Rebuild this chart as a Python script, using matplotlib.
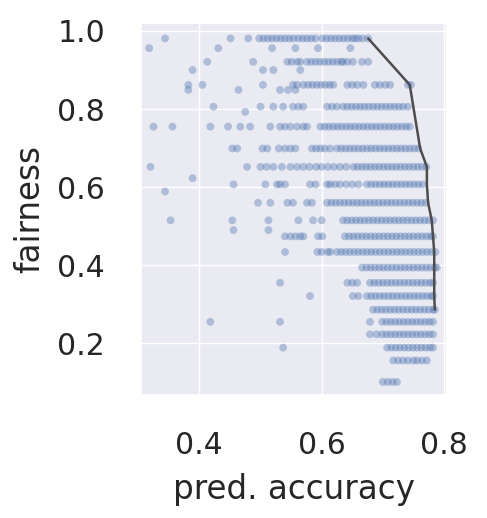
import matplotlib
matplotlib.use('Agg')
import matplotlib.pyplot as plt
import seaborn as sns

# fairness level of each row of runs, and the accuracies found on that row
fairness_levels = [0.981, 0.956, 0.921, 0.900, 0.862, 0.849, 0.806, 0.793,
                   0.755, 0.699, 0.652, 0.623, 0.607, 0.589, 0.560, 0.515,
                   0.490, 0.474, 0.434, 0.394, 0.355, 0.321, 0.286, 0.255,
                   0.223, 0.189, 0.156, 0.101]

accuracies = [
    [0.344, 0.451, 0.480, 0.498, 0.505, 0.512, 0.519, 0.526, 0.533, 0.540,
     0.547, 0.554, 0.562, 0.569, 0.576, 0.583, 0.590, 0.601, 0.608, 0.615,
     0.622, 0.629, 0.636, 0.643, 0.650, 0.655, 0.660, 0.667, 0.676],
    [0.318, 0.431, 0.519, 0.557, 0.594, 0.647],
    [0.413, 0.488, 0.544, 0.551, 0.560, 0.565, 0.576, 0.583, 0.590, 0.597,
     0.604, 0.611, 0.618, 0.625, 0.632, 0.635, 0.642, 0.651, 0.666, 0.676],
    [0.389, 0.504, 0.521, 0.565],
    [0.382, 0.405, 0.504, 0.553, 0.560, 0.570, 0.578, 0.585, 0.592, 0.599,
     0.606, 0.613, 0.619, 0.642, 0.650, 0.658, 0.668, 0.687, 0.695, 0.704,
     0.712, 0.741, 0.746],
    [0.382, 0.464, 0.532, 0.545, 0.557],
    [0.423, 0.500, 0.521, 0.537, 0.553, 0.562, 0.570, 0.609, 0.617, 0.625,
     0.635, 0.642, 0.649, 0.656, 0.663, 0.670, 0.677, 0.684, 0.691, 0.698,
     0.705, 0.712, 0.719, 0.726, 0.733, 0.741],
    [0.475],
    [0.325, 0.356, 0.418, 0.447, 0.467, 0.483, 0.516, 0.532, 0.540, 0.549,
     0.560, 0.570, 0.576, 0.598, 0.605, 0.612, 0.619, 0.626, 0.633, 0.640,
     0.647, 0.654, 0.661, 0.668, 0.675, 0.682, 0.689, 0.696, 0.703, 0.710,
     0.717, 0.724, 0.731, 0.738, 0.744],
    [0.454, 0.462, 0.503, 0.511, 0.530, 0.540, 0.549, 0.557, 0.584, 0.591,
     0.598, 0.605, 0.614, 0.625, 0.632, 0.639, 0.646, 0.653, 0.660, 0.667,
     0.674, 0.681, 0.688, 0.695, 0.702, 0.709, 0.716, 0.723, 0.730, 0.737,
     0.744, 0.751, 0.758],
    [0.320, 0.478, 0.500, 0.510, 0.521, 0.535, 0.549, 0.560, 0.570, 0.580,
     0.591, 0.600, 0.610, 0.620, 0.630, 0.640, 0.652, 0.659, 0.666, 0.673,
     0.680, 0.687, 0.694, 0.701, 0.708, 0.715, 0.722, 0.729, 0.736, 0.743,
     0.750, 0.757, 0.764, 0.771],
    [0.389],
    [0.456, 0.508, 0.527, 0.532, 0.540, 0.581, 0.590, 0.609, 0.614, 0.622,
     0.630, 0.640, 0.650, 0.660, 0.674, 0.681, 0.688, 0.695, 0.702, 0.709,
     0.716, 0.723, 0.730, 0.737, 0.744, 0.751, 0.758, 0.765],
    [0.344],
    [0.496, 0.516, 0.544, 0.553, 0.576, 0.584, 0.609, 0.616, 0.623, 0.630,
     0.637, 0.644, 0.651, 0.658, 0.665, 0.672, 0.679, 0.686, 0.693, 0.700,
     0.707, 0.714, 0.721, 0.728, 0.735, 0.742, 0.749, 0.756, 0.763, 0.770],
    [0.353, 0.454, 0.513, 0.562, 0.586, 0.600, 0.635, 0.642, 0.649, 0.656,
     0.663, 0.670, 0.677, 0.684, 0.691, 0.698, 0.705, 0.712, 0.719, 0.726,
     0.733, 0.740, 0.747, 0.754, 0.761, 0.768, 0.775, 0.782],
    [0.456, 0.513],
    [0.540, 0.549, 0.557, 0.565, 0.570, 0.594, 0.601, 0.638, 0.645, 0.652,
     0.659, 0.666, 0.673, 0.680, 0.687, 0.694, 0.701, 0.708, 0.715, 0.722,
     0.729, 0.736, 0.743, 0.750, 0.757, 0.764, 0.771, 0.778, 0.782],
    [0.540, 0.593, 0.600, 0.610, 0.614, 0.625, 0.632, 0.639, 0.646, 0.653,
     0.660, 0.667, 0.674, 0.681, 0.688, 0.695, 0.702, 0.709, 0.716, 0.723,
     0.730, 0.737, 0.744, 0.751, 0.758, 0.765, 0.772, 0.779, 0.786],
    [0.666, 0.673, 0.680, 0.687, 0.694, 0.701, 0.708, 0.715, 0.722, 0.729,
     0.736, 0.743, 0.750, 0.757, 0.764, 0.771, 0.778, 0.785, 0.788],
    [0.532, 0.642, 0.650, 0.658, 0.679, 0.686, 0.693, 0.700, 0.707, 0.714,
     0.721, 0.728, 0.735, 0.742, 0.749, 0.756, 0.763, 0.770, 0.777, 0.782],
    [0.581, 0.651, 0.660, 0.674, 0.681, 0.688, 0.695, 0.702, 0.709, 0.716,
     0.723, 0.730, 0.737, 0.744, 0.751, 0.758, 0.765, 0.772, 0.779, 0.782],
    [0.684, 0.691, 0.698, 0.705, 0.712, 0.719, 0.726, 0.733, 0.740, 0.747,
     0.754, 0.761, 0.768, 0.775, 0.782, 0.785],
    [0.418, 0.532, 0.679, 0.699, 0.706, 0.713, 0.720, 0.727, 0.734, 0.741,
     0.748, 0.755, 0.762, 0.769, 0.776, 0.782],
    [0.679, 0.690, 0.699, 0.706, 0.713, 0.720, 0.727, 0.734, 0.741, 0.748,
     0.755, 0.762, 0.769, 0.776, 0.782],
    [0.537, 0.707, 0.714, 0.721, 0.728, 0.735, 0.742, 0.749, 0.756, 0.763,
     0.770, 0.777, 0.782],
    [0.717, 0.725, 0.733, 0.741, 0.750, 0.756, 0.764, 0.772],
    [0.700, 0.708, 0.716, 0.723],
]

# pareto front (accuracy, fairness)
front_acc = [0.676, 0.744, 0.761, 0.772, 0.772, 0.774, 0.780, 0.782, 0.784,
             0.784, 0.784, 0.784, 0.785]
front_fair = [0.981, 0.862, 0.699, 0.652, 0.607, 0.560, 0.515, 0.474, 0.434,
              0.394, 0.355, 0.321, 0.286]

sns.set_theme(style='darkgrid')

xs, ys = [], []
for level, row in zip(fairness_levels, accuracies):
    xs += row
    ys += [level] * len(row)

fig = plt.figure(figsize=(4.87, 5.18), dpi=100)
ax = fig.add_axes([0.290, 0.237, 0.628, 0.719])
ax.scatter(xs, ys, s=32, color='#4c72b0', alpha=0.38, edgecolors='none')
ax.plot(front_acc, front_fair, color='#4d4d4d', lw=1.8)

ax.set_xlim(0.305, 0.805)
ax.set_ylim(0.067, 1.021)
ax.set_xticks([0.4, 0.6, 0.8])
ax.set_yticks([0.2, 0.4, 0.6, 0.8, 1.0])
ax.tick_params(labelsize=21.5, pad=20)
ax.set_xlabel('pred. accuracy', fontsize=23.5, labelpad=9)
ax.set_ylabel('fairness', fontsize=23.5, labelpad=8)

plt.savefig('out.png', dpi=100)
